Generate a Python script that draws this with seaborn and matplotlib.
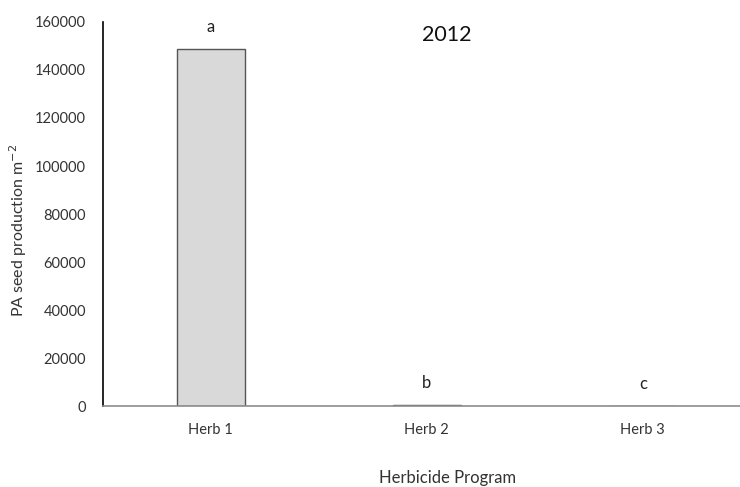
import pandas as pd
import matplotlib.pyplot as plt
import seaborn as sns

sns.set_style("white")
plt.rcParams['font.family'] = ['Lato', 'DejaVu Sans']

# Veriler
programlar = ["Herb 1", "Herb 2", "Herb 3"]
tohum = [148800, 500, 200]
harfler = ["a", "b", "c"]

df = pd.DataFrame({"program": programlar, "tohum": tohum})

fig = plt.figure(figsize=(7.4, 4.87), dpi=100)
ax = fig.add_axes([0.139, 0.166, 0.861, 0.789])

sns.barplot(data=df, x="program", y="tohum", color="#d9d9d9", width=0.315,
            edgecolor="#555555", linewidth=1.0, saturation=1, ax=ax)

for i, (deger, harf) in enumerate(zip(tohum, harfler)):
    ax.annotate(harf, (i, deger), xytext=(0, 10), textcoords="offset points",
                ha="center", va="bottom", fontsize=12, color="#222222")

ax.set_ylim(0, 160000)
ax.set_xlim(-0.5, 2.45)
ax.set_yticks(range(0, 160001, 20000))
ax.tick_params(axis="both", length=0, labelsize=10.5, colors="#333333")
ax.tick_params(axis="x", pad=12)
ax.tick_params(axis="y", pad=12)

for s in ["top", "right"]:
    ax.spines[s].set_visible(False)
ax.spines["left"].set_color("black")
ax.spines["left"].set_linewidth(1.2)
ax.spines["bottom"].set_color("#8c8c8c")
ax.spines["bottom"].set_linewidth(1.2)

# Eksen başlıkları (Excel tarzı konumlar)
ax.set_xlabel("")
ax.set_ylabel("")
fig.text(448 / 740, 1 - 478 / 487, "Herbicide Program", fontsize=12,
         color="#333333", ha="center", va="center")
fig.text(18 / 740, 1 - 230 / 487, "PA seed production m$^{-2}$", fontsize=11.5,
         color="#333333", ha="center", va="center", rotation=90)
ax.text(1.09, 154500, "2012", fontsize=15.5, ha="center", va="center", color="#111111")

fig.savefig("out.png", dpi=100)
